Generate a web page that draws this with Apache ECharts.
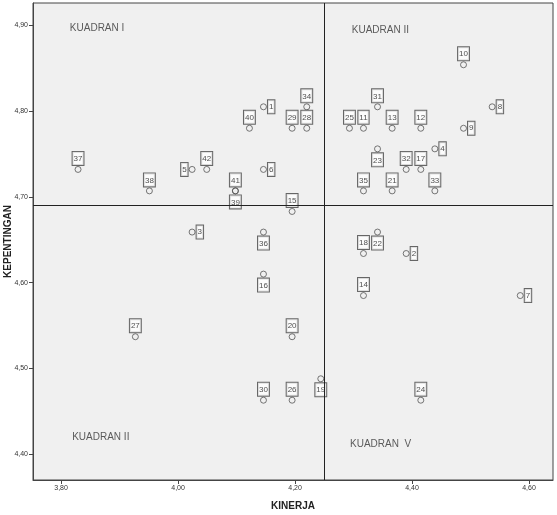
<!DOCTYPE html>
<html>
<head lang="en">
    <meta charset="UTF-8">
    <title>Kuadran</title>
    <style>
        body { margin: 0; background: #fff; }
    </style>
</head>
<body>
<div id="mychart" style="width: 557px;height: 515px;"></div>
<script src="https://cdn.jsdelivr.net/npm/echarts@6/dist/echarts.min.js"></script>
<script>
// nomor responden / atribut
var ids = ['1','2','3','4','5','6','7','8','9','10','11','12','13','14','15','16','17','18','19','20','21',
    '22','23','24','25','26','27','28','29','30','31','32','33','34','35','36','37','38','39','40','41','42'];
// nilai kinerja (sumbu X)
var kinerja = [4.146,4.390,4.024,4.439,4.024,4.146,4.585,4.537,4.488,4.488,4.317,4.415,4.366,4.317,4.195,4.146,4.415,4.317,4.244,4.195,4.366,
    4.341,4.341,4.415,4.293,4.195,3.927,4.220,4.195,4.146,4.341,4.390,4.439,4.220,4.317,4.146,3.829,3.951,4.098,4.122,4.098,4.049];
// nilai kepentingan (sumbu Y)
var kepentingan = [4.805,4.634,4.659,4.756,4.732,4.732,4.585,4.805,4.780,4.854,4.780,4.780,4.780,4.585,4.683,4.610,4.732,4.634,4.488,4.537,4.707,
    4.659,4.756,4.463,4.780,4.463,4.537,4.780,4.780,4.463,4.805,4.732,4.707,4.805,4.707,4.659,4.732,4.707,4.707,4.780,4.707,4.732];
// letak label tiap titik
var labelPos = ['right','right','right','right','left','right','right','right','right','top','top','top','top','top','top','bottom','top','top','bottom','top','top',
    'bottom','bottom','top','top','top','top','top','top','top','top','top','top','top','top','bottom','top','top','bottom','top','top','top'];
var xTicks = [3.8, 4.0, 4.2, 4.4, 4.6];
var yTicks = [4.4, 4.5, 4.6, 4.7, 4.8, 4.9];
var rataKinerja = 4.251;
var rataKepentingan = 4.694;
var kuadranNama = ['KUADRAN I', 'KUADRAN II', 'KUADRAN II', 'KUADRAN  V'];
var kuadranX = [3.815, 4.297, 3.819, 4.294];
var kuadranY = [4.897, 4.894, 4.420, 4.412];

var myChart = echarts.init(document.getElementById('mychart'));

function koma(v){
    return v.toFixed(2).replace('.', ',');
}

var titik = ids.map(function(id, i){
    return {
        name: id,
        value: [kinerja[i], kepentingan[i]],
        label: {position: labelPos[i]}
    };
});
var teksKuadran = kuadranNama.map(function(n, i){
    return {name: n, value: [kuadranX[i], kuadranY[i]]};
});

var option = {
    animation: false,
    grid: {
        left: 33, right: 4, top: 3, bottom: 35,
        outerBoundsMode: 'none',
        containLabel: false,
        show: true,
        backgroundColor: '#f0f0f0',
        borderColor: '#444',
        borderWidth: 1
    },
    xAxis: {
        type: 'value',
        min: 3.752,
        max: 4.641,
        name: 'KINERJA',
        nameLocation: 'middle',
        nameGap: 21,
        nameMoveOverlap: false,
        nameTextStyle: {fontSize: 10, fontWeight: 'bold', color: '#222', fontFamily: 'Liberation Sans'},
        splitLine: {show: false},
        axisLine: {lineStyle: {color: '#444'}},
        axisTick: {length: 4, customValues: xTicks, lineStyle: {color: '#444'}},
        axisLabel: {customValues: xTicks, formatter: koma, fontSize: 7, color: '#333', margin: 5, fontFamily: 'Liberation Sans'}
    },
    yAxis: {
        type: 'value',
        min: 4.370,
        max: 4.926,
        name: 'KEPENTINGAN',
        nameLocation: 'middle',
        nameGap: 20,
        nameMoveOverlap: false,
        nameTextStyle: {fontSize: 10, fontWeight: 'bold', color: '#222', fontFamily: 'Liberation Sans'},
        splitLine: {show: false},
        axisLine: {show: true, lineStyle: {color: '#444'}},
        axisTick: {show: true, length: 4, customValues: yTicks, lineStyle: {color: '#444'}},
        axisLabel: {customValues: yTicks, formatter: koma, fontSize: 7, color: '#333', margin: 5, fontFamily: 'Liberation Sans'}
    },
    series: [
        {
            type: 'scatter',
            symbol: 'circle',
            symbolSize: 6,
            itemStyle: {color: 'rgba(0,0,0,0)', borderColor: '#555', borderWidth: 1},
            label: {
                show: true,
                formatter: '{b}',
                distance: 1,
                fontSize: 8,
                color: '#222',
                fontFamily: 'Liberation Sans',
                backgroundColor: '#fff',
                borderColor: '#444',
                borderWidth: 1,
                padding: [3, 1, 2, 1]
            },
            data: titik,
            markLine: {
                silent: true,
                symbol: ['none', 'none'],
                label: {show: false},
                lineStyle: {color: '#222', type: 'solid', width: 1},
                data: [{xAxis: rataKinerja}, {yAxis: rataKepentingan}]
            }
        },
        {
            type: 'scatter',
            symbolSize: 0,
            silent: true,
            label: {
                show: true,
                position: [0, 0],
                align: 'left',
                verticalAlign: 'middle',
                formatter: '{b}',
                fontSize: 10,
                color: '#333',
                fontFamily: 'Liberation Sans'
            },
            data: teksKuadran
        }
    ]
};
myChart.setOption(option);
</script>
</body>
</html>
